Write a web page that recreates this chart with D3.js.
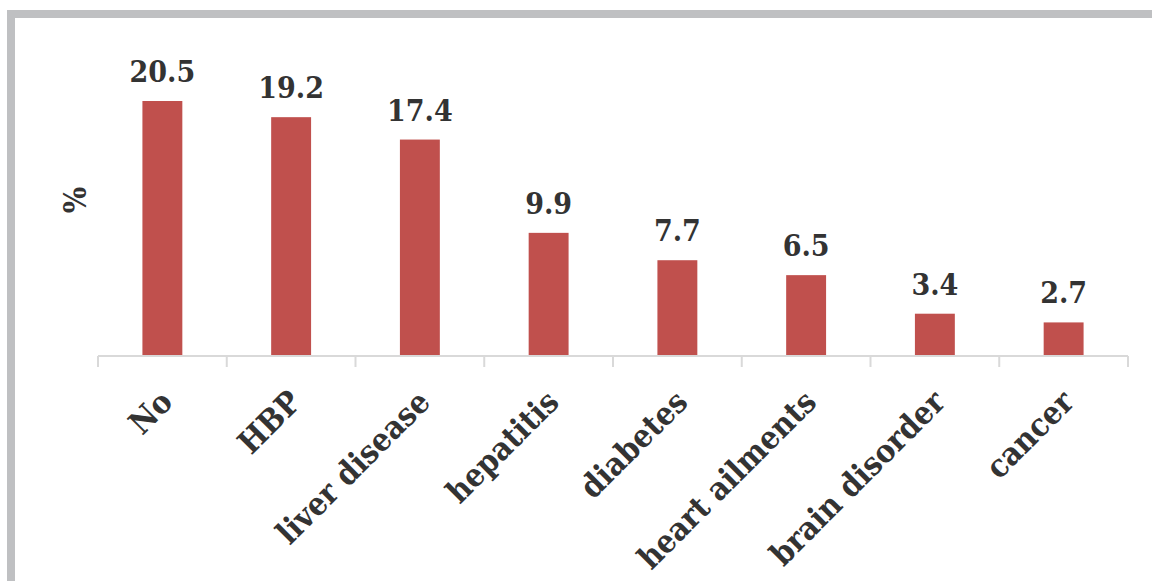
<!DOCTYPE html>
<html>
<head>
<meta charset="utf-8">
<script src="https://cdn.jsdelivr.net/npm/d3@7"></script>
<style>
  body { margin: 0; background: #fff; }
  svg text { font-family: "DejaVu Serif Condensed", "DejaVu Serif", serif; font-stretch: condensed; font-weight: bold; fill: #333; }
</style>
</head>
<body>
<div id="chart"></div>
<script>
// chart data
var categories = ["No", "HBP", "liver disease", "hepatitis", "diabetes", "heart ailments", "brain disorder", "cancer"];
var values = [20.5, 19.2, 17.4, 9.9, 7.7, 6.5, 3.4, 2.7];
var valueLabels = ["20.5", "19.2", "17.4", "9.9", "7.7", "6.5", "3.4", "2.7"];
var yLabel = "%";

var width = 1152, height = 581;
var plot = {left: 98, right: 1128, top: 101, bottom: 356};

var svg = d3.select("#chart").append("svg")
    .attr("width", width)
    .attr("height", height);

// grey frame round the chart area (top and left edges visible)
svg.append("rect")
    .attr("x", 11).attr("y", 14)
    .attr("width", width + 20).attr("height", height + 20)
    .attr("fill", "none")
    .attr("stroke", "#bfc0c2")
    .attr("stroke-width", 8);

var x = d3.scaleBand()
    .domain(categories)
    .range([plot.left, plot.right])
    .paddingInner(0.69)
    .paddingOuter(0.345);

var y = d3.scaleLinear()
    .domain([0, 20.5])
    .range([plot.bottom, plot.top]);

// bars
svg.selectAll("rect.bar")
    .data(values)
    .enter().append("rect")
    .attr("class", "bar")
    .attr("x", function (d, i) { return x(categories[i]); })
    .attr("y", function (d) { return y(d); })
    .attr("width", x.bandwidth())
    .attr("height", function (d) { return y(0) - y(d); })
    .attr("fill", "#c0504d");

// category axis
var xAxis = d3.scaleBand().domain(categories).range([plot.left, plot.right]);
var axisG = svg.append("g");
axisG.append("line")
    .attr("x1", plot.left).attr("x2", plot.right)
    .attr("y1", plot.bottom).attr("y2", plot.bottom)
    .attr("stroke", "#d9d9d9").attr("stroke-width", 2);
var tickX = categories.map(function (c) { return xAxis(c); }).concat([plot.right]);
axisG.selectAll("line.tick")
    .data(tickX)
    .enter().append("line")
    .attr("class", "tick")
    .attr("x1", function (d) { return d; }).attr("x2", function (d) { return d; })
    .attr("y1", plot.bottom).attr("y2", plot.bottom + 11)
    .attr("stroke", "#d9d9d9").attr("stroke-width", 2);

// rotated category labels
svg.selectAll("text.cat")
    .data(categories)
    .enter().append("text")
    .attr("class", "cat")
    .attr("text-anchor", "end")
    .attr("font-size", 32)
    .attr("transform", function (d) {
        var cx = xAxis(d) + xAxis.bandwidth() / 2 + 12;
        return "translate(" + cx + "," + (plot.bottom + 48) + ") rotate(-45)";
    })
    .text(function (d) { return d; });

// value labels
svg.selectAll("text.val")
    .data(values)
    .enter().append("text")
    .attr("class", "val")
    .attr("text-anchor", "middle")
    .attr("font-size", 30)
    .attr("x", function (d, i) { return x(categories[i]) + x.bandwidth() / 2; })
    .attr("y", function (d) { return y(d) - 19; })
    .text(function (d, i) { return valueLabels[i]; });

// y axis title
svg.append("text")
    .attr("text-anchor", "middle")
    .attr("font-size", 31)
    .attr("transform", "translate(86,200) rotate(-90)")
    .text(yLabel);
</script>
</body>
</html>
